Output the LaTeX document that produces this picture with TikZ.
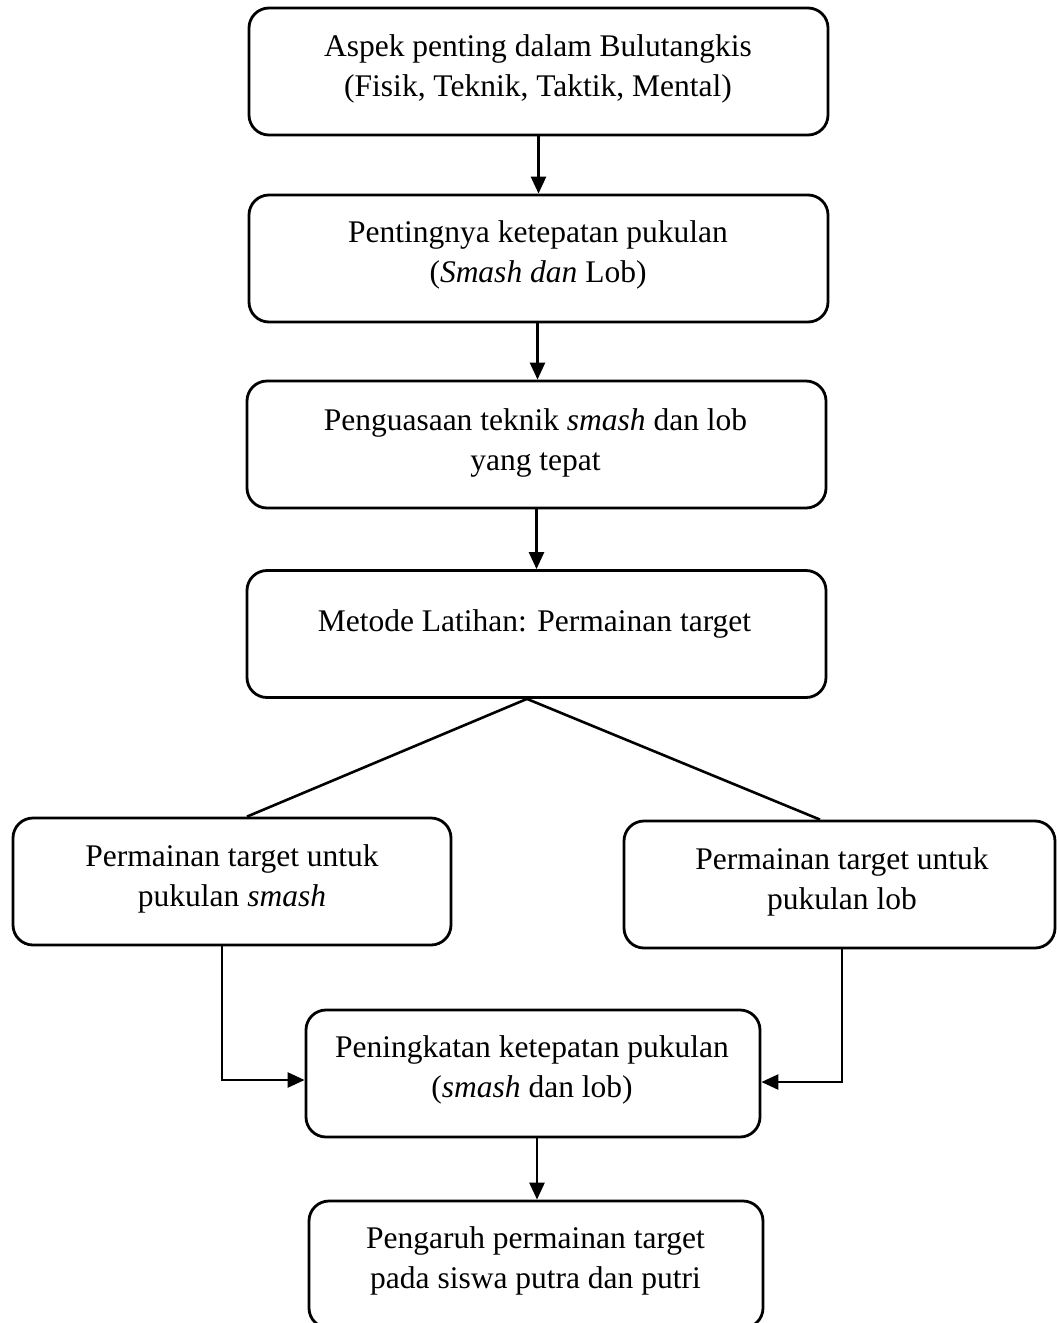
\documentclass[tikz,border=0pt]{standalone}
\usepackage{fontspec}
\setmainfont{Liberation Serif}
\usetikzlibrary{arrows.meta,calc}
\tikzset{
  box/.style={draw, line width=2.8pt, rounded corners=20pt, minimum height=127pt, inner sep=0pt},
  txt/.style={align=center, inner sep=0pt, font=\fontsize{31.5}{40}\selectfont},
  conn/.style={line width=2.6pt},
  arr/.style={conn, -{Triangle[length=17pt,width=15pt]}}
}
\begin{document}
\begin{tikzpicture}[x=1pt,y=-1pt]
\useasboundingbox[fill=white] (0,0) rectangle (1057,1323);
% boxes
\node[box, minimum width=579pt] (b1) at (538.5,71.5) {};
\node[box, minimum width=579pt] (b2) at (538.5,258.5) {};
\node[box, minimum width=579pt] (b3) at (536.5,444.5) {};
\node[box, minimum width=579pt] (b4) at (536.5,634) {};
\node[box, minimum width=438pt] (b5) at (232,881.5) {};
\node[box, minimum width=431pt] (b6) at (839.5,884.5) {};
\node[box, minimum width=454pt] (b7) at (533,1073.5) {};
\node[box, minimum width=454pt] (b8) at (536,1264.5) {};
% texts
\node[txt] (t1) at (538,69) {Aspek penting dalam Bulutangkis\\(Fisik, Teknik, Taktik, Mental)};
\node[txt] (t2) at (538,255) {Pentingnya ketepatan pukulan\\(\textit{Smash dan} Lob)};
\node[txt] (t3) at (535.5,443) {Penguasaan teknik \textit{smash} dan lob\\yang tepat};
\node[txt] (t4) at (534.5,624) {Metode Latihan: Permainan target};
\node[txt] (t5) at (232,879) {Permainan target untuk\\pukulan \textit{smash}};
\node[txt] (t6) at (842,882) {Permainan target untuk\\pukulan lob};
\node[txt] (t7) at (532,1070) {Peningkatan ketepatan pukulan\\(\textit{smash} dan lob)};
\node[txt] (t8) at (535.5,1261) {Pengaruh permainan target\\pada siswa putra dan putri};
% connectors
\draw[arr] (b1.south) -- (b1.south |- b2.north);
\draw[arr] ($(b2.south)+(-1,0)$) -- ($(b2.south |- b3.north)+(-1,0)$);
\draw[arr] (b3.south) -- (b3.south |- b4.north);
\coordinate (apex) at ($(b4.south)+(-9.5,0)$);
\draw[conn] (apex) -- ($(b5.north)+(15,0)$);
\draw[conn] (apex) -- ($(b6.north)+(-19.5,0)$);
\coordinate (l1) at ($(b5.south)+(-10,0)$);
\coordinate (r1) at ($(b6.south)+(2.5,0)$);
\draw[arr] (l1) |- ($(b7.west)+(0,6.5)$);
\draw[arr] (r1) |- ($(b7.east)+(0,8.5)$);
\draw[arr] ($(b7.south)+(4,0)$) -- ($(b7.south |- b8.north)+(4,0)$);
\end{tikzpicture}
\end{document}
